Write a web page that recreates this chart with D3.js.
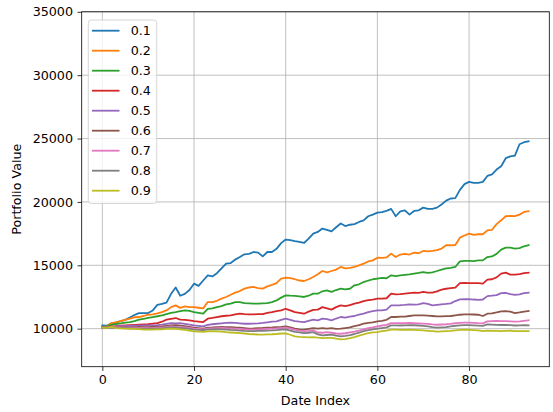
<!DOCTYPE html>
<html>
<head>
<meta charset="utf-8">
<script src="https://cdn.jsdelivr.net/npm/d3@7"></script>
<style>
  html, body { margin: 0; padding: 0; background: #fff; }
  svg { display: block; font-family: "DejaVu Sans", sans-serif; }
</style>
</head>
<body>
<svg id="chart" width="553" height="412"></svg>
<script>
// Portfolio value over time for each allocation level
const seriesNames = ["0.1", "0.2", "0.3", "0.4", "0.5", "0.6", "0.7", "0.8", "0.9"];
const colors = ["#1f77b4", "#ff7f0e", "#2ca02c", "#d62728", "#9467bd", "#8c564b", "#e377c2", "#7f7f7f", "#bcbd22"];

const s01 = [10250,10230,10420,10500,10600,10700,10880,11080,11230,11220,
  11230,11440,11880,11950,12050,12750,13250,12600,12750,13050,
  13550,13380,13800,14200,14120,14380,14750,15130,15180,15450,
  15650,15870,15900,16050,16000,15700,16050,16050,16300,16750,
  17030,16980,16900,16850,16760,17100,17500,17630,17900,17800,
  17680,18000,18300,18100,18200,18250,18420,18550,18870,19000,
  19150,19200,19300,19450,18870,19260,19340,19000,19290,19340,
  19550,19450,19450,19550,19800,20100,20270,20300,20950,21400,
  21580,21500,21500,21580,22050,22180,22550,22810,23450,23600,
  23650,24550,24710,24790];
const s02 = [10130,10200,10440,10500,10600,10700,10800,10900,10920,11000,
  11100,11130,11200,11300,11440,11700,11840,11640,11760,11700,
  11700,11650,11600,12100,12100,12200,12370,12500,12680,12850,
  12970,13160,13250,13290,13200,13160,13340,13450,13600,13950,
  14030,13980,13900,13800,13760,13900,14080,14290,14550,14450,
  14550,14660,14870,14750,14800,14870,15000,15130,15300,15390,
  15600,15580,15620,15920,15650,15850,15900,15850,16000,15950,
  16130,16100,16130,16200,16320,16580,16580,16600,17180,17350,
  17500,17400,17450,17450,17760,17800,18250,18550,18870,18900,
  18880,19000,19210,19260];
const s03 = [10130,10200,10300,10370,10420,10480,10520,10600,10710,10780,
  10850,10920,10980,11050,11150,11250,11310,11380,11440,11400,
  11310,11250,11180,11570,11600,11700,11780,11920,11980,12100,
  12100,12020,12000,11970,11970,12000,12020,12100,12230,12450,
  12630,12600,12580,12550,12500,12600,12760,12760,12950,13020,
  12900,13050,13160,13100,13150,13420,13500,13680,13800,13900,
  13950,14000,13980,14210,14150,14200,14250,14290,14350,14400,
  14470,14400,14450,14550,14660,14750,14800,14870,15310,15350,
  15350,15330,15390,15390,15650,15700,15900,16240,16400,16400,
  16320,16350,16500,16600];
const s04 = [10080,10100,10180,10200,10230,10260,10280,10300,10320,10340,
  10360,10400,10440,10550,10710,10780,10840,10710,10700,10650,
  10600,10560,10520,10790,10850,10920,10980,11020,11050,11120,
  11180,11150,11130,11130,11150,11150,11250,11310,11380,11440,
  11570,11450,11310,11250,11180,11350,11490,11500,11700,11600,
  11500,11700,11840,11780,11850,11970,12050,12180,12250,12300,
  12370,12370,12400,12760,12700,12720,12760,12800,12840,12820,
  12900,12850,12840,12950,13080,13150,13200,13240,13600,13620,
  13600,13600,13600,13550,13870,13900,14050,14340,14420,14260,
  14260,14300,14380,14420];
const s05 = [10080,10100,10150,10180,10200,10210,10220,10230,10240,10250,
  10260,10260,10280,10320,10380,10440,10420,10440,10380,10320,
  10260,10220,10180,10300,10350,10390,10420,10450,10470,10450,
  10420,10390,10390,10400,10420,10450,10500,10550,10580,10700,
  10790,10700,10600,10550,10520,10620,10710,10660,10790,10750,
  10660,10800,10920,10880,10950,11000,11100,11180,11300,11380,
  11440,11450,11500,11840,11840,11850,11880,11920,11900,11920,
  12020,11950,11840,11880,11920,11950,12000,12180,12310,12320,
  12330,12300,12280,12300,12570,12600,12650,12810,12830,12720,
  12660,12700,12800,12840];
const s06 = [10080,10100,10120,10130,10130,10130,10120,10130,10140,10130,
  10130,10140,10150,10180,10220,10260,10280,10240,10200,10150,
  10080,10050,10000,10080,10100,10130,10150,10130,10130,10100,
  10080,10050,10000,10020,10050,10060,10080,10100,10130,10150,
  10180,10100,10000,9950,9920,9980,10050,10000,10050,10000,
  10050,9980,10000,10050,10100,10200,10280,10390,10450,10500,
  10580,10620,10700,10920,10920,10950,10950,11000,11050,11050,
  11050,11030,11000,10970,10970,10990,11000,11050,11100,11130,
  11130,11120,11100,11000,11180,11200,11280,11370,11380,11350,
  11230,11280,11350,11390];
const s07 = [10080,10100,10120,10100,10100,10090,10080,10080,10070,10060,
  10050,10060,10080,10100,10130,10180,10150,10120,10100,10060,
  10000,9980,9950,10000,10030,10050,10060,10040,10030,10000,
  9980,9950,9920,9930,9950,9960,9980,10000,10020,10050,
  10080,10000,9900,9850,9800,9830,9880,9700,9680,9720,
  9680,9620,9600,9640,9700,9760,9850,9950,10050,10100,
  10180,10250,10300,10440,10440,10430,10430,10450,10440,10420,
  10400,10380,10340,10310,10330,10350,10380,10440,10460,10480,
  10480,10460,10430,10420,10580,10600,10610,10600,10600,10580,
  10550,10580,10620,10660];
const s08 = [10080,10070,10080,10060,10050,10040,10030,10030,10010,10000,
  9990,10000,10010,10030,10060,10100,10080,10050,10020,9980,
  9920,9900,9880,9920,9950,9960,9950,9930,9900,9880,
  9850,9820,9800,9800,9820,9830,9850,9860,9880,9920,
  9950,9850,9750,9700,9650,9680,9720,9550,9470,9500,
  9530,9450,9390,9430,9500,9580,9680,9800,9880,9950,
  10000,10050,10100,10260,10260,10250,10260,10280,10270,10250,
  10220,10180,10120,10080,10100,10120,10180,10230,10260,10280,
  10280,10260,10240,10220,10340,10320,10300,10290,10300,10280,
  10250,10260,10270,10260];
const s09 = [10080,10060,10150,10050,10020,10000,9990,9980,9960,9930,
  9920,9930,9940,9950,9980,10000,9980,9940,9900,9850,
  9790,9770,9750,9780,9800,9790,9760,9720,9700,9680,
  9650,9620,9580,9560,9540,9530,9550,9560,9580,9620,
  9630,9520,9400,9360,9340,9320,9330,9290,9260,9280,
  9270,9210,9150,9180,9250,9330,9450,9550,9650,9700,
  9730,9800,9850,9920,9920,9910,9900,9920,9910,9890,
  9860,9830,9800,9770,9790,9810,9830,9870,9900,9920,
  9910,9890,9860,9800,9850,9830,9820,9810,9830,9840,
  9800,9810,9810,9810];

const allSeries = [s01, s02, s03, s04, s05, s06, s07, s08, s09];
const xTicks = [0, 20, 40, 60, 80];
const yTicks = [10000, 15000, 20000, 25000, 30000, 35000];

const svg = d3.select("#chart");
const plot = { left: 81.7, right: 549.3, top: 11.8, bottom: 366.7 };
const fontSize = 12.7;
const textColor = "#000";

const x = d3.scaleLinear().domain([-4.5, 97.5]).range([plot.left, plot.right]);
const y = d3.scaleLinear().domain([7000, 35000]).range([plot.bottom, plot.top]);

// grid
const grid = svg.append("g");
grid.selectAll("line.gx").data(xTicks).join("line")
  .attr("x1", d => x(d)).attr("x2", d => x(d))
  .attr("y1", plot.top).attr("y2", plot.bottom)
  .attr("stroke", "#b0b0b0").attr("stroke-width", 0.8);
grid.selectAll("line.gy").data(yTicks).join("line")
  .attr("x1", plot.left).attr("x2", plot.right)
  .attr("y1", d => y(d)).attr("y2", d => y(d))
  .attr("stroke", "#b0b0b0").attr("stroke-width", 0.8);

// series lines
const line = d3.line().x((d, i) => x(i)).y(d => y(d));
svg.append("clipPath").attr("id", "plotclip").append("rect")
  .attr("x", plot.left).attr("y", plot.top)
  .attr("width", plot.right - plot.left).attr("height", plot.bottom - plot.top);
svg.append("g").attr("clip-path", "url(#plotclip)")
  .selectAll("path").data(allSeries).join("path")
  .attr("d", d => line(d))
  .attr("fill", "none")
  .attr("stroke", (d, i) => colors[i])
  .attr("stroke-width", 1.8)
  .attr("stroke-linejoin", "round")
  .attr("stroke-linecap", "square");

// axes
const xAxis = d3.axisBottom(x).tickValues(xTicks).tickSize(4.2).tickPadding(4).tickFormat(d3.format("d"));
const yAxis = d3.axisLeft(y).tickValues(yTicks).tickSize(4.2).tickPadding(4.5).tickFormat(d3.format("d"));

const gx = svg.append("g").attr("transform", `translate(0,${plot.bottom})`).call(xAxis);
const gy = svg.append("g").attr("transform", `translate(${plot.left},0)`).call(yAxis);
[gx, gy].forEach(g => {
  g.select(".domain").remove();
  g.selectAll(".tick line").attr("stroke", "#000").attr("stroke-width", 0.8);
  g.selectAll(".tick text").attr("fill", textColor)
    .style("font-family", "DejaVu Sans").style("font-size", fontSize + "px");
});

// frame
svg.append("rect")
  .attr("x", plot.left).attr("y", plot.top)
  .attr("width", plot.right - plot.left).attr("height", plot.bottom - plot.top)
  .attr("fill", "none").attr("stroke", "#000").attr("stroke-width", 0.8);

// axis titles
svg.append("text")
  .attr("x", (plot.left + plot.right) / 2).attr("y", 404.5)
  .attr("text-anchor", "middle")
  .style("font-size", fontSize + "px").attr("fill", textColor)
  .text("Date Index");
svg.append("text")
  .attr("transform", `translate(20.5,${(plot.top + plot.bottom) / 2}) rotate(-90)`)
  .attr("text-anchor", "middle")
  .style("font-size", fontSize + "px").attr("fill", textColor)
  .text("Portfolio Value");

// legend
const legend = svg.append("g");
legend.append("rect")
  .attr("x", 88.3).attr("y", 20).attr("width", 68.4).attr("height", 183.5)
  .attr("rx", 3).attr("ry", 3)
  .attr("fill", "#fff").attr("fill-opacity", 0.8)
  .attr("stroke", "#cccccc").attr("stroke-width", 0.8);
const rows = legend.selectAll("g.row").data(seriesNames).join("g")
  .attr("transform", (d, i) => `translate(0,${30.7 + i * 20})`);
rows.append("line")
  .attr("x1", 92).attr("x2", 119.5).attr("y1", 0).attr("y2", 0)
  .attr("stroke", (d, i) => colors[i]).attr("stroke-width", 1.8);
rows.append("text")
  .attr("x", 130.7).attr("y", 0).attr("dy", "0.36em")
  .style("font-size", fontSize + "px").attr("fill", textColor)
  .text(d => d);
</script>
</body>
</html>
